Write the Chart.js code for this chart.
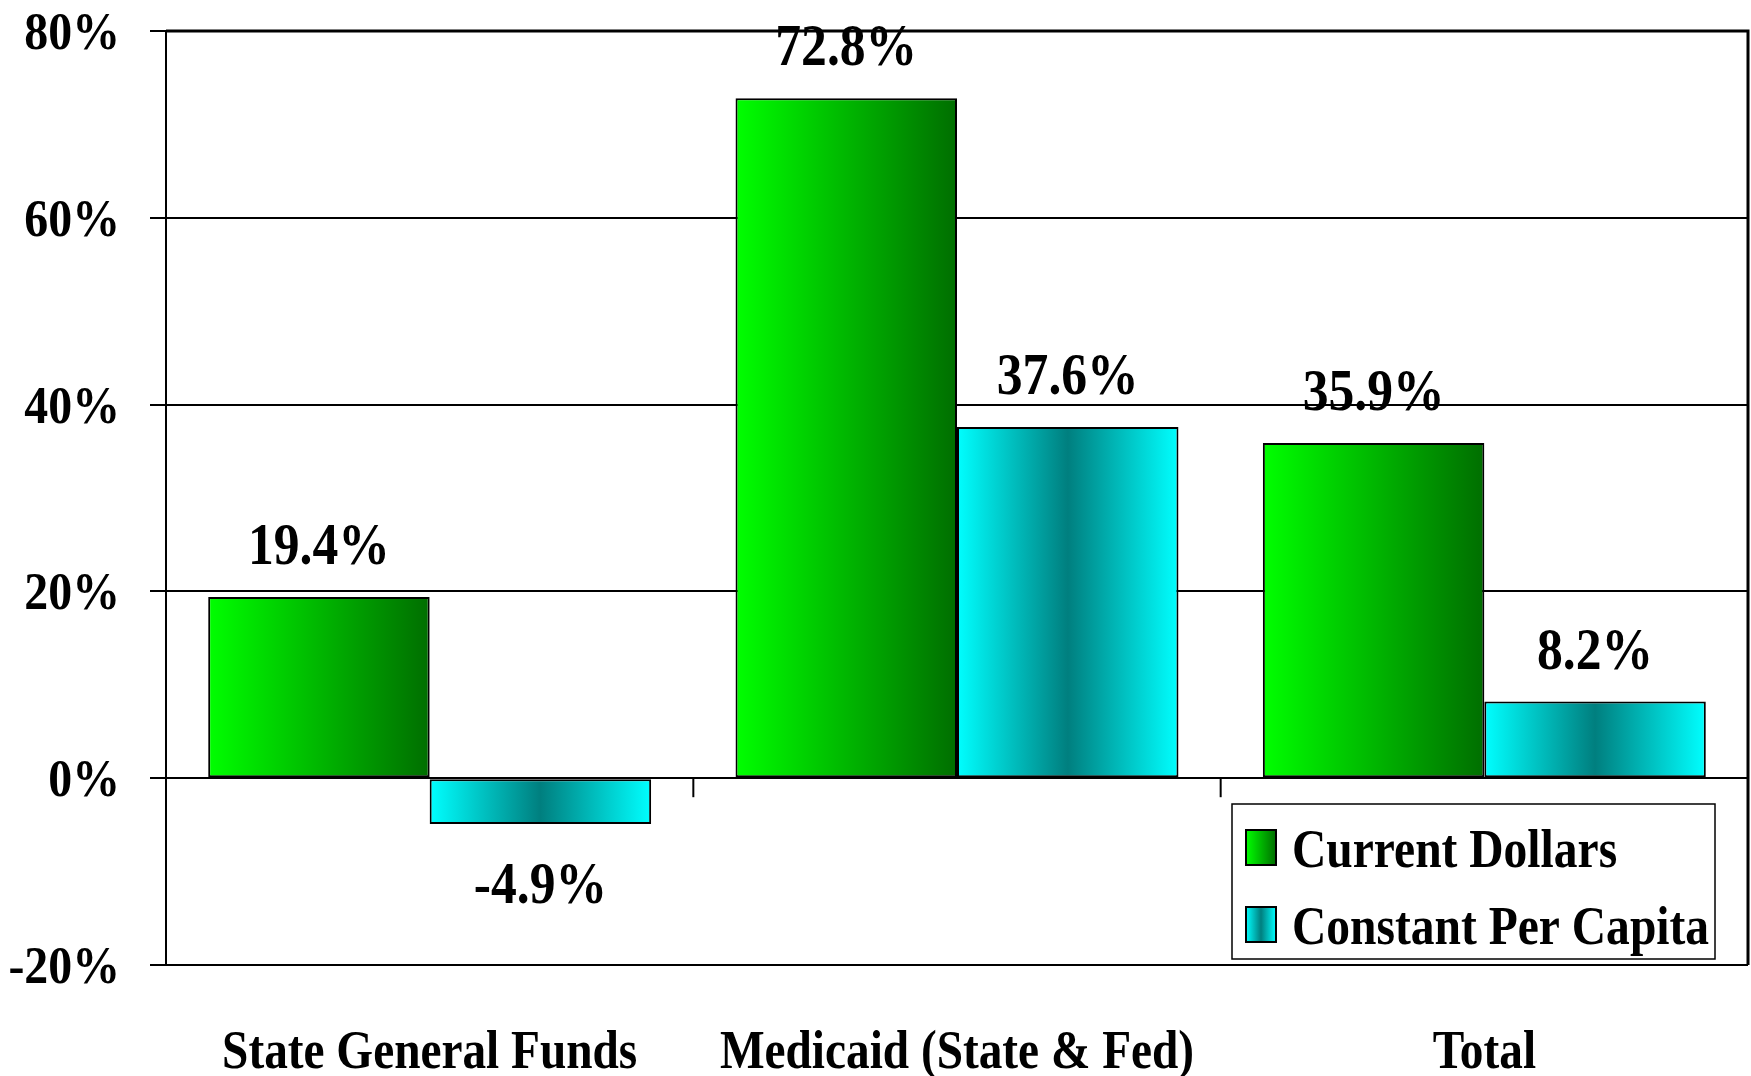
<!DOCTYPE html>
<html>
<head>
<meta charset="utf-8">
<title>Growth by fund</title>
<script src="https://cdn.jsdelivr.net/npm/chart.js@4.4.1/dist/chart.umd.min.js"></script>
<style>
  html, body { margin: 0; padding: 0; background: #fff; }
  canvas { display: block; }
</style>
</head>
<body>
<canvas id="growthChart" width="1751" height="1076"></canvas>
<script>
const categories = ['State General Funds', 'Medicaid (State & Fed)', 'Total'];
const seriesNames = ['Current Dollars', 'Constant Per Capita'];
const currentDollars = [19.4, 72.8, 35.9];
const constantPerCapita = [-4.9, 37.6, 8.2];
const yTicks = [-20, 0, 20, 40, 60, 80];

const FONT = '"Liberation Serif", "Times New Roman", serif';

// horizontal gradients, one per series
const gradientStops = [
  [[0, '#00ff00'], [1, '#006e00']],
  [[0, '#00ffff'], [0.5, '#007f7f'], [1, '#00ffff']]
];

function makeGradient(ctx, x0, x1, stops) {
  const g = ctx.createLinearGradient(x0, 0, x1, 0);
  stops.forEach(s => g.addColorStop(s[0], s[1]));
  return g;
}

// the source text is a narrow bold serif, so squeeze it a bit
function drawText(ctx, text, x, y, size, align, squeeze) {
  ctx.save();
  ctx.font = 'bold ' + size + 'px ' + FONT;
  ctx.fillStyle = '#000';
  ctx.textAlign = align;
  ctx.textBaseline = 'alphabetic';
  ctx.translate(x, y);
  ctx.scale(squeeze, 1);
  ctx.fillText(text, 0, 0);
  ctx.restore();
}

function pct(v) {
  return v.toFixed(1) + '%';
}

const barGradients = {
  id: 'barGradients',
  beforeDatasetsDraw(chart) {
    chart.data.datasets.forEach((ds, di) => {
      chart.getDatasetMeta(di).data.forEach(bar => {
        const g = makeGradient(chart.ctx, bar.x - bar.width / 2, bar.x + bar.width / 2, gradientStops[di]);
        bar.options = Object.assign({}, bar.options, { backgroundColor: g });
      });
    });
  }
};

const decorations = {
  id: 'decorations',
  afterDatasetsDraw(chart) {
    const ctx = chart.ctx;
    const x = chart.scales.x;
    const y = chart.scales.y;
    const zero = y.getPixelForValue(0);

    // category separators hanging from the zero line
    ctx.save();
    ctx.strokeStyle = '#000';
    ctx.lineWidth = 2;
    for (let i = 0; i < categories.length - 1; i++) {
      const bx = (x.getPixelForValue(i) + x.getPixelForValue(i + 1)) / 2;
      ctx.beginPath();
      ctx.moveTo(bx, zero);
      ctx.lineTo(bx, zero + 19);
      ctx.stroke();
    }
    ctx.restore();

    // value labels
    chart.data.datasets.forEach((ds, di) => {
      chart.getDatasetMeta(di).data.forEach((bar, i) => {
        const v = ds.data[i];
        const ty = v >= 0 ? bar.y - 33 : bar.y + 79;
        drawText(ctx, pct(v), bar.x, ty, 60, 'center', 0.86);
      });
    });
  },
  afterDraw(chart) {
    const ctx = chart.ctx;
    const area = chart.chartArea;
    const x = chart.scales.x;
    const y = chart.scales.y;

    // plot frame
    ctx.save();
    ctx.strokeStyle = '#000';
    ctx.lineWidth = 3;
    ctx.beginPath();
    ctx.moveTo(area.left, area.top);
    ctx.lineTo(area.right, area.top);
    ctx.lineTo(area.right, area.bottom);
    ctx.stroke();
    ctx.restore();

    // y tick labels
    yTicks.forEach(v => {
      drawText(ctx, v + '%', area.left - 46, y.getPixelForValue(v) + 18, 52, 'right', 0.92);
    });

    // category labels
    categories.forEach((c, i) => {
      drawText(ctx, c, x.getPixelForValue(i), area.bottom + 103, 55, 'center', 0.86);
    });

    // legend box
    const lx = area.right - 516;
    const ly = area.bottom - 161;
    ctx.save();
    ctx.fillStyle = '#fff';
    ctx.fillRect(lx, ly, 483, 155);
    ctx.strokeStyle = '#000';
    ctx.lineWidth = 1.5;
    ctx.strokeRect(lx, ly, 483, 155);
    seriesNames.forEach((name, i) => {
      const sy = ly + 26 + i * 77;
      ctx.fillStyle = makeGradient(ctx, lx + 14, lx + 44, gradientStops[i]);
      ctx.fillRect(lx + 14, sy, 30, 35);
      ctx.lineWidth = 2;
      ctx.strokeRect(lx + 14, sy, 30, 35);
      drawText(ctx, name, lx + 60, sy + 37, 54, 'left', 0.88);
    });
    ctx.restore();
  }
};

new Chart(document.getElementById('growthChart'), {
  type: 'bar',
  data: {
    labels: categories,
    datasets: [{
      label: seriesNames[0],
      data: currentDollars,
      backgroundColor: '#00c000',
      borderColor: '#000',
      borderWidth: 2,
      borderSkipped: false
    }, {
      label: seriesNames[1],
      data: constantPerCapita,
      backgroundColor: '#00c0c0',
      borderColor: '#000',
      borderWidth: 2,
      borderSkipped: false
    }]
  },
  options: {
    responsive: false,
    animation: false,
    events: [],
    layout: {
      padding: { left: 150, top: 31, right: 3, bottom: 111 }
    },
    datasets: {
      bar: {
        barPercentage: 1,
        categoryPercentage: 0.84
      }
    },
    scales: {
      x: {
        display: false
      },
      y: {
        min: -20,
        max: 80,
        afterBuildTicks: function(scale) {
          scale.ticks = yTicks.map(v => ({ value: v }));
        },
        ticks: {
          display: false
        },
        grid: {
          color: '#000',
          lineWidth: 2,
          drawTicks: true,
          tickLength: 16
        },
        border: {
          display: true,
          color: '#000',
          width: 2
        }
      }
    },
    plugins: {
      legend: { display: false },
      tooltip: { enabled: false }
    }
  },
  plugins: [barGradients, decorations]
});
</script>
</body>
</html>
